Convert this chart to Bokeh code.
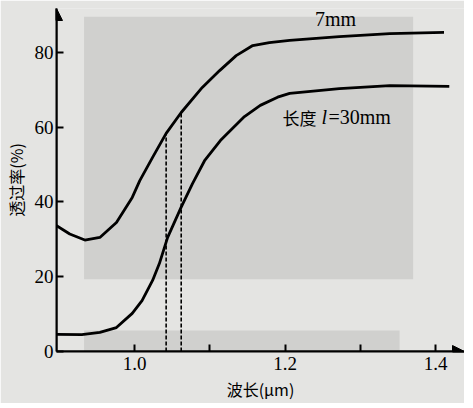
from bokeh.plotting import figure
from bokeh.models import (FixedTicker, Arrow, NormalHead, BoxAnnotation, Label)
from bokeh.embed import file_html
from bokeh.resources import INLINE

# --- data ---
wl_7 = [0.896, 0.914, 0.934, 0.954, 0.976, 0.997, 1.007, 1.024, 1.042, 1.062,
        1.090, 1.113, 1.135, 1.157, 1.179, 1.206, 1.272, 1.339, 1.411]
t_7 = [33.7, 31.4, 29.8, 30.5, 34.5, 41.2, 45.7, 51.9, 58.3, 63.9,
       70.6, 75.1, 79.1, 81.8, 82.6, 83.2, 84.2, 85.0, 85.3]

wl_30 = [0.896, 0.930, 0.954, 0.976, 0.997, 1.010, 1.024, 1.033, 1.044, 1.062,
         1.077, 1.093, 1.114, 1.137, 1.146, 1.167, 1.190, 1.206, 1.272, 1.339, 1.418]
t_30 = [4.6, 4.5, 5.1, 6.4, 10.2, 13.6, 19.0, 23.5, 30.5, 38.6,
        44.9, 51.0, 56.4, 61.0, 62.8, 65.8, 68.0, 69.0, 70.3, 71.1, 70.9]

dash_wl = [1.042, 1.062]
dash_top = [58.3, 63.9]

x_ticks = [1.0, 1.1, 1.2, 1.3, 1.4]
x_tick_labels = ["1.0", "", "1.2", "", "1.4"]
y_ticks = [0, 20, 40, 60, 80]
y_tick_labels = ["0", "20", "40", "60", "80"]

x_lo, x_hi = 0.8964, 1.4382
y_lo, y_hi = 0.0, 91.7

BG = "#e4e4e2"
SHADE = "#d0d0ce"

p = figure(frame_width=408, frame_height=343, output_backend="svg",
           toolbar_location=None,
           x_range=(x_lo, x_hi), y_range=(y_lo, y_hi),
           min_border_left=49, min_border_right=0, min_border_top=8,
           min_border_bottom=45)
p.background_fill_color = BG
p.border_fill_color = BG
p.outline_line_color = None
p.grid.visible = False

# scanned-page shading
p.add_layout(BoxAnnotation(left=0.933, right=1.37, bottom=19.3, top=89.5,
                           fill_color=SHADE, fill_alpha=1, line_alpha=0,
                           level="underlay"))
p.add_layout(BoxAnnotation(left=0.933, right=1.352, bottom=-5, top=5.6,
                           fill_color=SHADE, fill_alpha=1, line_alpha=0,
                           level="underlay"))

# curves
p.line(wl_7, t_7, line_color="black", line_width=2.8)
p.line(wl_30, t_30, line_color="black", line_width=2.8)
p.segment(x0=dash_wl, y0=[0, 0], x1=dash_wl, y1=dash_top,
          line_color="black", line_width=1.6, line_dash="4 2")

# axes
SERIF = "Times New Roman"
CJK = "Noto Sans CJK SC"
for ax in (p.xaxis[0], p.yaxis[0]):
    ax.axis_line_width = 2
    ax.axis_line_color = "black"
    ax.major_tick_in = 7
    ax.major_tick_out = 0
    ax.minor_tick_in = 0
    ax.minor_tick_out = 0
    ax.major_tick_line_width = 2
    ax.major_label_text_font = SERIF
    ax.major_label_text_font_size = "19px"
    ax.major_label_text_color = "black"
    ax.axis_label_text_font = CJK
    ax.axis_label_text_font_size = "16px"
    ax.axis_label_text_font_style = "normal"
    ax.axis_label_text_color = "black"

p.xaxis.ticker = FixedTicker(ticks=x_ticks)
p.xaxis.major_label_overrides = {t: l for t, l in zip(x_ticks, x_tick_labels)}
p.xaxis.major_label_standoff = 5
p.xaxis.axis_label = "波长(μm)"
p.xaxis.axis_label_standoff = 4

p.yaxis.ticker = FixedTicker(ticks=y_ticks)
p.yaxis.major_label_overrides = {t: l for t, l in zip(y_ticks, y_tick_labels)}
p.yaxis.major_label_standoff = 3
p.yaxis.axis_label = "透过率(%)"
p.yaxis.axis_label_standoff = 4

# axis arrows
p.add_layout(Arrow(end=NormalHead(size=12, fill_color="black", line_color="black"),
                   x_start=x_lo, y_start=0, x_end=x_hi, y_end=0,
                   line_width=2, line_color="black"))
p.add_layout(Arrow(end=NormalHead(size=12, fill_color="black", line_color="black"),
                   x_start=x_lo, y_start=0, x_end=x_lo, y_end=y_hi,
                   line_width=2, line_color="black"))

# curve labels
p.add_layout(Label(x=1.267, y=89.0, text="7mm", text_align="center",
                   text_baseline="middle", text_font=SERIF,
                   text_font_size="20px", text_color="black"))
lab_x, lab_y = 1.2457, 62.6
p.add_layout(Label(x=lab_x, y=lab_y, text="长度", x_offset=-3,
                   text_align="right", text_baseline="middle", text_font=CJK,
                   text_font_size="17px", text_color="black"))
p.add_layout(Label(x=lab_x, y=lab_y, text="l", x_offset=2,
                   text_align="left", text_baseline="middle", text_font=SERIF,
                   text_font_style="italic",
                   text_font_size="20px", text_color="black"))
p.add_layout(Label(x=lab_x, y=lab_y, text="=30mm", x_offset=9,
                   text_align="left", text_baseline="middle", text_font=SERIF,
                   text_font_size="20px", text_color="black"))

open("out.html", "w").write(file_html(p, INLINE))
